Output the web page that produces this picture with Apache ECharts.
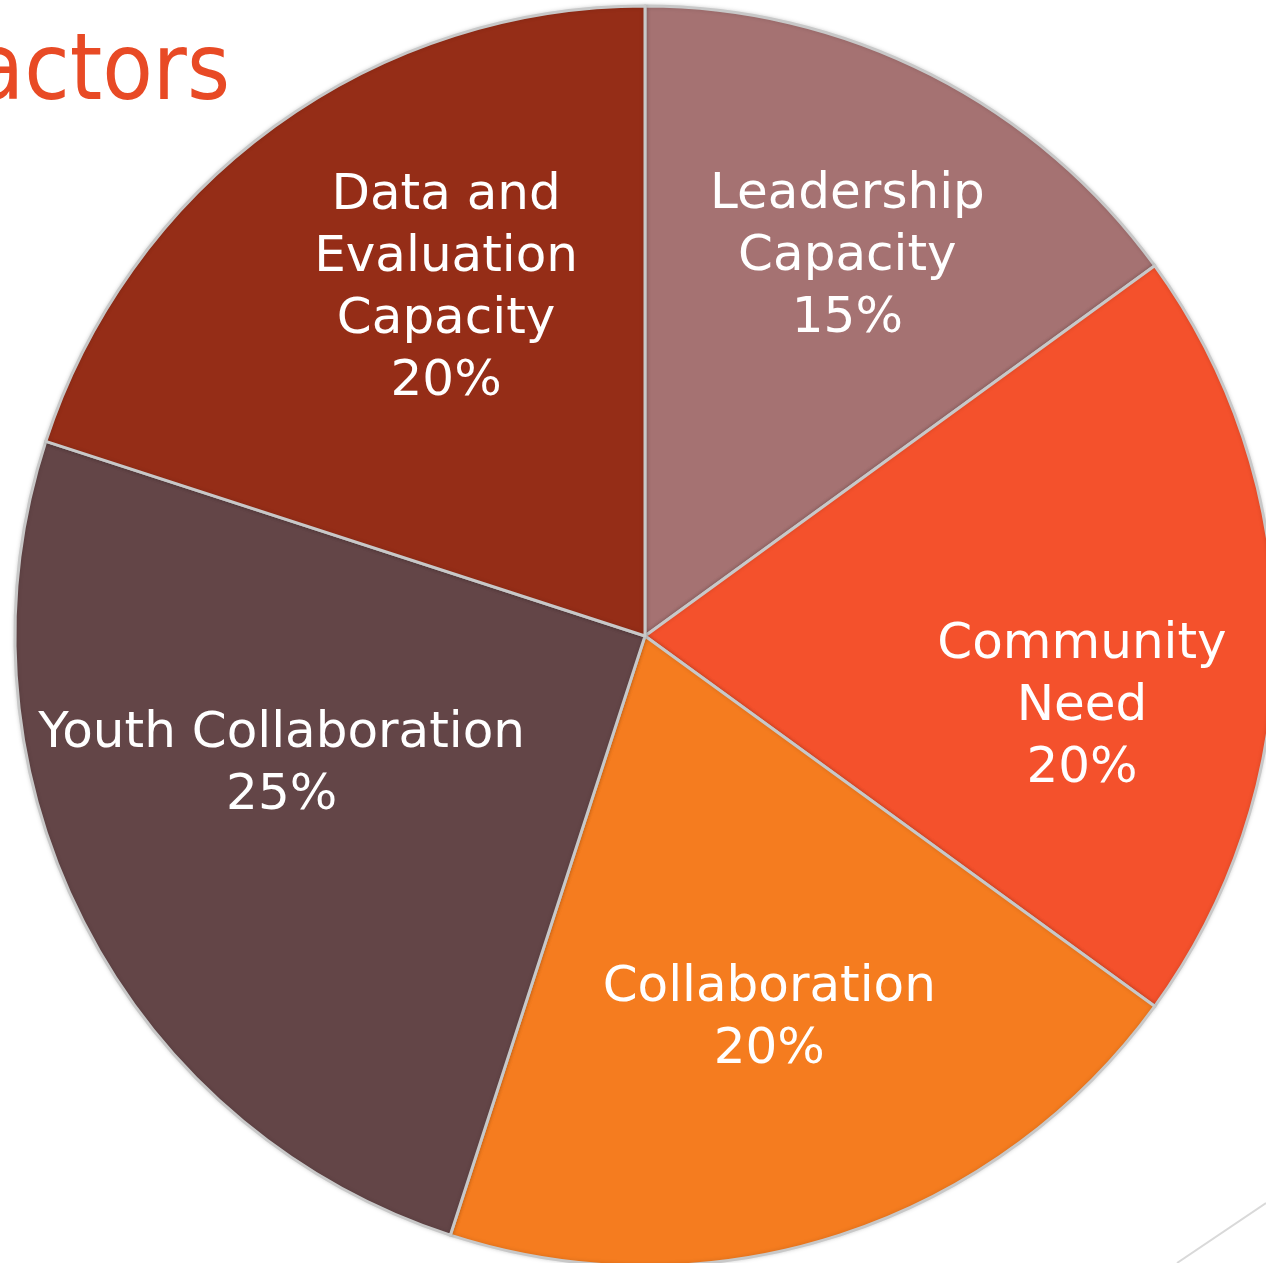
<!DOCTYPE html>
<html>
<head>
<meta charset="utf-8">
<script src="https://cdn.jsdelivr.net/npm/echarts@6/dist/echarts.min.js"></script>
<style>
html,body{margin:0;padding:0;background:#fff;}
#chart{width:1266px;height:1263px;}
</style>
</head>
<body>
<div id="chart"></div>
<script>
// Data
var categories = ['Leadership\nCapacity', 'Community\nNeed', 'Collaboration', 'Youth Collaboration', 'Data and\nEvaluation\nCapacity'];
var values = [15, 20, 20, 25, 20];
var titleText = 'Factors';

// Styles (kept separate from data)
var colors = ['#A57272', '#F4512C', '#F57C1F', '#634547', '#952D17'];
var labelOffsets = [[58, -96], [119, 71], [26, 81], [-80, -15], [-12, -90]];

var chart = echarts.init(document.getElementById('chart'));
var seriesData = categories.map(function (name, i) {
  return {
    name: name,
    value: values[i],
    itemStyle: { color: colors[i] },
    label: { offset: labelOffsets[i] }
  };
});

chart.setOption({
  animation: false,
  graphic: [
    {
      type: 'text',
      style: {
        text: titleText,
        x: 230,
        y: 75,
        align: 'right',
        verticalAlign: 'middle',
        fill: '#E84A25',
        font: '92px "Liberation Sans Narrow", "DejaVu Sans Condensed", "DejaVu Sans", sans-serif'
      }
    },
    {
      type: 'line',
      shape: { x1: 1177, y1: 1263, x2: 1266, y2: 1203 },
      style: { stroke: '#d9d9d9', lineWidth: 2 }
    }
  ],
  series: [
    {
      type: 'pie',
      center: [645, 636],
      radius: [0, 630],
      startAngle: 90,
      clockwise: true,
      avoidLabelOverlap: false,
      label: {
        show: true,
        position: 'inside',
        formatter: '{b}\n{c}%',
        color: '#ffffff',
        fontFamily: '"DejaVu Sans", Verdana, sans-serif',
        fontSize: 50,
        lineHeight: 62,
        align: 'center'
      },
      labelLine: { show: false },
      itemStyle: {
        borderColor: '#c8c8c8',
        borderWidth: 3,
        shadowColor: 'rgba(0,0,0,0.15)',
        shadowBlur: 4
      },
      emphasis: { disabled: true },
      data: seriesData
    }
  ]
});
</script>
</body>
</html>
